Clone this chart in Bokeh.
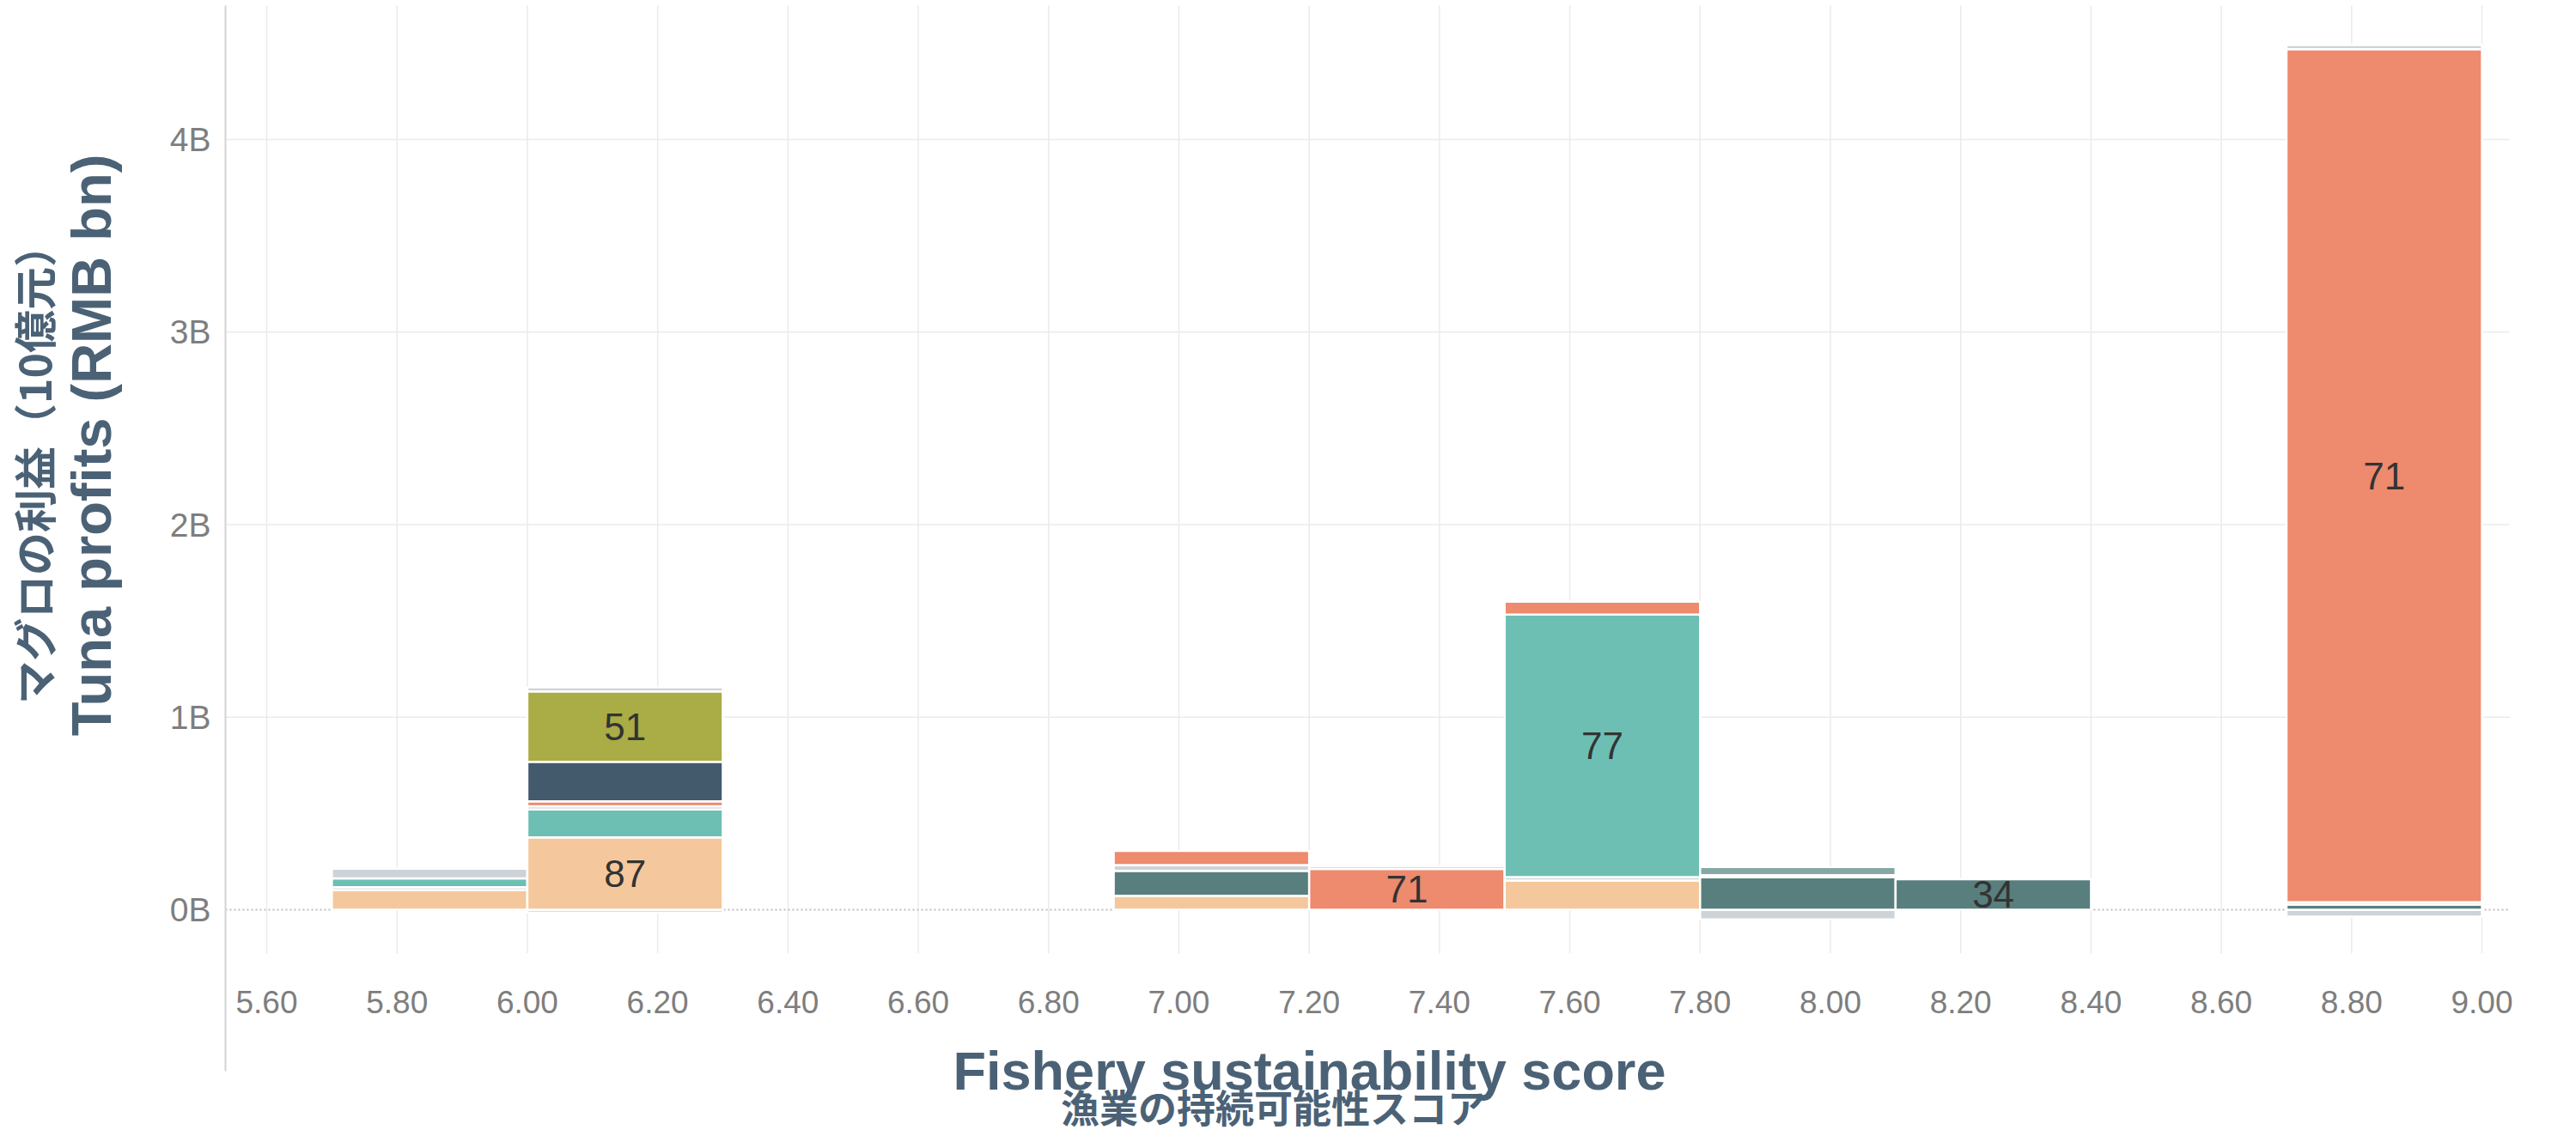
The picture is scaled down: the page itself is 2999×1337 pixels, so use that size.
import math
from bokeh.plotting import figure
from bokeh.models import (Range1d, FixedTicker, PrintfTickFormatter, Label,
                          ColumnDataSource)
from bokeh.core.properties import value
from bokeh.embed import file_html
from bokeh.resources import INLINE

# ---------------- data ----------------
# Histogram bins of fishery sustainability score
bin_left = [5.7, 6.0, 6.9, 7.2, 7.5, 7.8, 8.1, 8.7]
bin_right = [6.0, 6.3, 7.2, 7.5, 7.8, 8.1, 8.4, 9.0]

# Stacked segments (tuna profits, RMB bn), listed bottom-up per bin
seg_bin = [0, 0, 0, 0,
           1, 1, 1, 1, 1, 1, 1, 1,
           2, 2, 2, 2,
           3, 3,
           4, 4, 4, 4,
           5, 5, 5, 5,
           6,
           7, 7, 7, 7, 7]
seg_group = ["peach", "grey", "teal", "grey",
             "grey", "peach", "teal", "grey", "salmon", "slate", "olive", "grey",
             "peach", "darkteal", "grey", "salmon",
             "salmon", "grey",
             "peach", "grey", "teal", "salmon",
             "grey", "darkteal", "teal", "sage",
             "darkteal",
             "grey", "darkteal", "peach", "salmon", "grey"]
seg_value = [0.102, 0.015, 0.046, 0.050,
             -0.016, 0.376, 0.145, 0.016, 0.026, 0.205, 0.366, 0.021,
             0.072, 0.130, 0.030, 0.074,
             0.212, 0.014,
             0.152, 0.018, 1.363, 0.067,
             -0.050, 0.168, 0.012, 0.042,
             0.158,
             -0.036, 0.027, 0.012, 4.430, 0.021]
seg_label = ["", "", "", "",
             "", "87", "", "", "", "", "51", "",
             "", "", "", "",
             "71", "",
             "", "", "77", "",
             "", "", "", "",
             "34",
             "", "", "", "71", ""]

group_colors = {
    "peach": "#F4C89C",
    "teal": "#6DBFB3",
    "slate": "#435A6D",
    "olive": "#AAAC45",
    "salmon": "#EE8A6E",
    "darkteal": "#587F7D",
    "grey": "#CDD3D6",
    "sage": "#86A8A4",
}

x_ticks = [5.6, 5.8, 6.0, 6.2, 6.4, 6.6, 6.8, 7.0, 7.2, 7.4, 7.6, 7.8,
           8.0, 8.2, 8.4, 8.6, 8.8, 9.0]
y_ticks = [0, 1, 2, 3, 4]

x_title = "Fishery sustainability score"
x_title_ja = "漁業の持続可能性スコア"
y_title = "Tuna profits (RMB bn)"
y_title_ja = "マグロの利益（10億元）"

# ---------------- stacking ----------------
left, right, bottom, top, color = [], [], [], [], []
lx, ly, ltxt = [], [], []
pos = {}
neg = {}
for b, g, v, lab in zip(seg_bin, seg_group, seg_value, seg_label):
    if v >= 0:
        b0 = pos.get(b, 0.0)
        b1 = b0 + v
        pos[b] = b1
    else:
        b1 = neg.get(b, 0.0)
        b0 = b1 + v
        neg[b] = b0
    left.append(bin_left[b])
    right.append(bin_right[b])
    bottom.append(b0)
    top.append(b1)
    color.append(group_colors[g])
    if lab:
        lx.append((bin_left[b] + bin_right[b]) / 2)
        ly.append((b0 + b1) / 2)
        ltxt.append(lab)

src = ColumnDataSource(dict(left=left, right=right, bottom=bottom, top=top, color=color))
lsrc = ColumnDataSource(dict(x=lx, y=ly, text=ltxt))

# ---------------- layout (frame covers the whole canvas) ----------------
W, H = 2983, 1321
X0, X1 = 5.1913, 9.1239          # data x at canvas left / right edge
Y0, Y1 = -1.1683, 4.7224         # data y at canvas bottom / top edge
area_left, area_right = 5.5367, 9.0422   # plotting area in data units
area_bottom, area_top = -0.2274, 4.696
axis_line_bottom = -0.838

p = figure(width=W, height=H, output_backend="svg", toolbar_location=None,
           x_range=Range1d(X0, X1), y_range=Range1d(Y0, Y1),
           min_border=0, min_border_left=0, min_border_right=0,
           min_border_top=0, min_border_bottom=0)
p.outline_line_color = None
p.background_fill_color = "white"
p.border_fill_color = "white"
p.xgrid.visible = False
p.ygrid.visible = False

title_color = "#4B6276"
tick_color = "#7E7E7E"
grid_color = "#EBEBEB"

# axes placed at fixed data locations
p.xaxis.fixed_location = area_bottom
p.xaxis.ticker = FixedTicker(ticks=x_ticks)
p.xaxis.formatter = PrintfTickFormatter(format="%.2f")
p.xaxis.axis_line_color = None
p.xaxis.major_tick_line_color = None
p.xaxis.minor_tick_line_color = None
p.xaxis.major_label_text_font = "Liberation Sans"
p.xaxis.major_label_text_font_size = "37px"
p.xaxis.major_label_text_color = tick_color
p.xaxis.major_label_standoff = 37

p.yaxis.fixed_location = area_left
p.yaxis.bounds = (axis_line_bottom, area_top)
p.yaxis.ticker = FixedTicker(ticks=y_ticks)
p.yaxis.formatter = PrintfTickFormatter(format="%dB")
p.yaxis.axis_line_color = "#D4D4D4"
p.yaxis.axis_line_width = 2
p.yaxis.major_tick_line_color = None
p.yaxis.minor_tick_line_color = None
p.yaxis.major_label_text_font = "Liberation Sans"
p.yaxis.major_label_text_font_size = "39px"
p.yaxis.major_label_text_color = tick_color
p.yaxis.major_label_standoff = 11

# grid lines (from the tick positions, limited to the plotting area)
p.segment(x0=x_ticks, x1=x_ticks, y0=[area_bottom] * len(x_ticks),
          y1=[area_top] * len(x_ticks), line_color=grid_color, line_width=1.5)
gy = [t for t in y_ticks if t != 0]
p.segment(x0=[area_left] * len(gy), x1=[area_right] * len(gy), y0=gy, y1=gy,
          line_color=grid_color, line_width=1.5)
p.segment(x0=[area_left], x1=[area_right], y0=[0], y1=[0],
          line_color="#BDBDBD", line_width=2, line_dash="2 3")

# bars
p.quad(left="left", right="right", bottom="bottom", top="top", source=src,
       fill_color="color", line_color="white", line_width=2.5)

p.text(x="x", y="y", text="text", source=lsrc, text_align="center",
       text_baseline="middle", text_font=value("Liberation Sans"),
       text_font_size="44px", text_color="#333333")

# axis titles (screen units: from canvas left, and up from canvas bottom)
p.add_layout(Label(x=1524, y=H - 1246, x_units="screen", y_units="screen",
                   text=x_title, text_align="center", text_baseline="middle",
                   text_font="Liberation Sans", text_font_style="bold",
                   text_font_size="63px", text_color=title_color))
p.add_layout(Label(x=1482, y=H - 1288, x_units="screen", y_units="screen",
                   text=x_title_ja, text_align="center", text_baseline="middle",
                   text_font="Noto Sans CJK JP", text_font_style="bold",
                   text_font_size="45px", text_color=title_color))
p.add_layout(Label(x=106, y=H - 518, x_units="screen", y_units="screen",
                   text=y_title, text_align="center", text_baseline="middle",
                   angle=math.pi / 2,
                   text_font="Liberation Sans", text_font_style="bold",
                   text_font_size="65px", text_color=title_color))
p.add_layout(Label(x=37, y=H - 540, x_units="screen", y_units="screen",
                   text=y_title_ja, text_align="center", text_baseline="middle",
                   angle=math.pi / 2,
                   text_font="Noto Sans CJK JP", text_font_style="bold",
                   text_font_size="50px", text_color=title_color))

open("out.html", "w").write(file_html(p, INLINE))
